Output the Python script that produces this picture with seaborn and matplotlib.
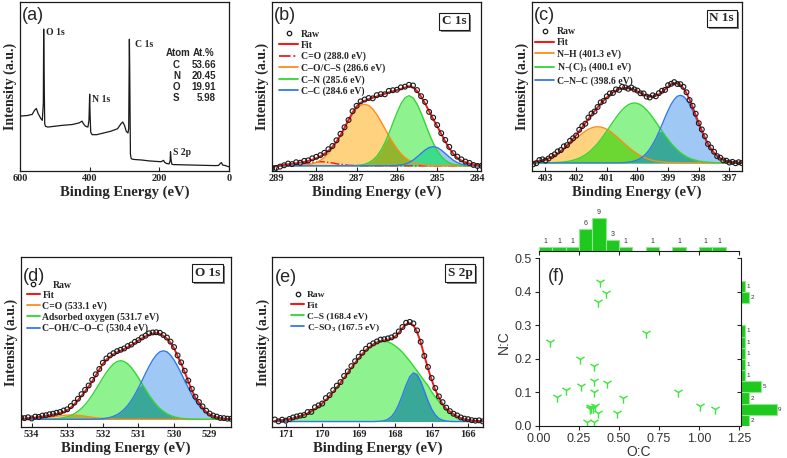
import numpy as np
import matplotlib
matplotlib.use('Agg')
import matplotlib.pyplot as plt
import matplotlib.patheffects as pe
from matplotlib.lines import Line2D
import seaborn as sns

sns.set_theme(style='white')
plt.rcParams['font.family'] = ['Liberation Serif', 'DejaVu Serif']
plt.rcParams['mathtext.default'] = 'regular'

SERIF = 'Liberation Serif'
SANS = 'Liberation Sans'

# ---------------- (a) survey spectrum ----------------
survey_energy = [600, 580, 565, 558, 553, 548, 540, 536, 533, 532, 531, 529, 527, 520, 500, 480, 450, 430,
                 422, 418, 412, 405, 402, 400, 399, 397, 393, 380, 360, 340, 320, 310, 305, 300, 295, 290,
                 288, 286, 285, 283, 281, 278, 270, 250, 230, 210, 195, 188, 185, 180, 172, 169, 168, 166,
                 164, 160, 140, 120, 100, 80, 60, 40, 30, 25, 22, 18, 10, 5, 0]
survey_counts = [32.5, 32.8, 33.5, 36, 37, 34, 31, 30, 40, 84, 60, 28, 26.5, 26, 26.5, 27, 27.5, 28.5,
                 29.5, 28, 26.5, 26, 30, 45.5, 35, 23, 21.5, 21.5, 22.5, 23.5, 25, 28, 29, 27, 23.5, 22.5,
                 25, 78, 60, 10, 7.5, 7, 6.8, 6.5, 6, 5.7, 5.5, 6.3, 5.2, 4.5, 4.2, 6, 11.4, 6,
                 4, 3.8, 3.7, 3.6, 3.5, 3.4, 3.3, 3.2, 3.3, 4.5, 5, 3.5, 3.2, 2.8, 2.5]
atoms = ['C', 'N', 'O', 'S']
at_pct = ['53.66', '20.45', '19.91', '5.98']

# ---------------- (b) C 1s  (289.1 -> 283.9 eV, 0.1 eV step) ----------------
b_energy = np.round(np.arange(289.1, 283.85, -0.1), 1)
b_base = 3.1
b_raw = [1.6, 1.8, 2.6, 3.4, 4.4, 4.1, 5.2, 4.9, 6.0, 6.3, 7.5, 8.4, 9.4, 10.8, 12.9, 14.8, 18.2, 22.0,
         25.9, 30.2, 35.4, 38.6, 41.2, 42.3, 43.2, 43.0, 44.9, 45.5, 45.4, 47.4, 47.8, 48.1, 49.5, 49.9,
         51.0, 50.6, 47.9, 44.3, 40.9, 35.0, 31.6, 27.2, 22.4, 18.4, 14.3, 10.6, 8.5, 6.9, 5.6, 4.8, 3.6,
         3.0, 3.1]
b_fit = [2.5, 2.8, 3.2, 3.6, 4.0, 4.3, 4.6, 5.0, 5.4, 6.0, 6.7, 7.6, 8.7, 10.2, 12.0, 14.3, 17.3, 21.2,
         25.6, 30.3, 34.6, 38.2, 40.4, 41.6, 42.5, 43.3, 44.1, 44.9, 45.7, 46.5, 47.2, 47.9, 48.6, 49.4,
         50.2, 49.6, 47.3, 44.0, 40.0, 35.3, 30.8, 26.5, 22.0, 17.5, 13.4, 10.2, 7.8, 6.2, 5.2, 4.4, 3.9,
         3.5, 3.3]
b_co = [0, 0, 0, .1, .2, .3, .6, .9, 1.2, 1.7, 2.0, 2.3, 2.4, 2.3, 2.0, 1.7, 1.2, .9, .6, .3, .2, .1,
        0, 0, 0, 0, 0, 0, 0, 0, 0, 0, 0, 0, 0, 0, 0, 0, 0, 0, 0, 0, 0, 0, 0, 0, 0, 0, 0, 0, 0, 0, 0]
b_cos = [0, 0, 0, 0, 0, .1, .1, .2, .4, .7, 1.2, 2.0, 3.2, 4.9, 7.2, 10.1, 13.7, 17.7, 22.1, 26.4, 30.4,
         33.6, 35.7, 36.4, 35.7, 33.6, 30.4, 26.4, 22.1, 17.7, 13.7, 10.1, 7.2, 4.9, 3.2, 2.0, 1.2, .7,
         .4, .2, .1, .1, 0, 0, 0, 0, 0, 0, 0, 0, 0, 0, 0]
b_cn = [0, 0, 0, 0, 0, 0, 0, 0, 0, 0, 0, 0, 0, 0, 0, 0, 0, 0, 0, 0, .1, .2, .5, .9, 1.8, 3.3, 5.6, 9.0,
        13.5, 19.0, 25.2, 31.3, 36.6, 40.2, 41.5, 40.2, 36.6, 31.3, 25.2, 19.0, 13.5, 9.0, 5.6, 3.3, 1.8,
        .9, .5, .2, .1, 0, 0, 0, 0]
b_cc = [0, 0, 0, 0, 0, 0, 0, 0, 0, 0, 0, 0, 0, 0, 0, 0, 0, 0, 0, 0, 0, 0, 0, 0, 0, 0, 0, 0, 0, 0, .1, .2,
        .5, 1.0, 1.9, 3.3, 5.2, 7.3, 9.3, 10.8, 11.3, 10.8, 9.3, 7.3, 5.2, 3.3, 1.9, 1.0, .5, .2, .1, 0, 0]

# ---------------- (c) N 1s  (403.4 -> 396.6 eV) ----------------
c_energy = np.round(np.arange(403.4, 396.55, -0.1), 1)
c_base = 4.8
c_raw = [4.0, 4.6, 6.5, 6.9, 6.2, 7.4, 8.9, 9.9, 11.6, 12.4, 14.6, 15.3, 17.9, 19.4, 21.0, 24.4, 26.6,
         28.0, 31.6, 34.0, 35.2, 37.9, 40.6, 41.5, 44.2, 45.9, 46.2, 48.3, 48.0, 49.8, 49.5, 48.7, 49.4,
         48.3, 47.6, 46.0, 45.9, 44.0, 43.5, 44.8, 44.2, 46.1, 47.5, 48.0, 50.8, 51.6, 52.6, 51.5, 51.4,
         49.8, 46.6, 42.0, 38.6, 33.9, 28.3, 24.6, 20.6, 16.0, 13.9, 11.4, 8.8, 7.9, 6.3, 6.1, 5.0, 5.4,
         4.6, 5.2, 4.7]
c_fit = [5.4, 5.6, 5.9, 6.3, 6.8, 7.5, 8.3, 9.3, 10.4, 11.7, 13.3, 15.0, 16.9, 19.0, 21.2, 23.5, 25.9,
         28.4, 30.8, 33.2, 35.5, 37.7, 39.8, 41.8, 43.5, 45.1, 46.5, 47.6, 48.4, 48.9, 49.1, 49.0, 48.6,
         48.0, 47.1, 46.2, 45.3, 44.5, 44.1, 44.1, 44.5, 45.4, 46.8, 48.3, 49.9, 51.2, 51.9, 51.9, 51.0,
         49.0, 46.1, 42.3, 37.9, 33.2, 28.5, 23.9, 19.8, 16.2, 13.2, 10.8, 8.9, 7.6, 6.6, 5.9, 5.5, 5.2,
         5.0, 4.9, 4.9]
c_nh = [.6, .8, 1.1, 1.5, 2.0, 2.6, 3.4, 4.3, 5.3, 6.6, 7.9, 9.4, 11.0, 12.6, 14.3, 15.9, 17.4, 18.8,
        19.9, 20.7, 21.2, 21.4, 21.2, 20.7, 19.9, 18.8, 17.4, 15.9, 14.3, 12.6, 11.0, 9.4, 7.9, 6.6, 5.3,
        4.3, 3.4, 2.6, 2.0, 1.5, 1.1, .8, .6, .4, .3, .2, .1, .1, .1,
        0, 0, 0, 0, 0, 0, 0, 0, 0, 0, 0, 0, 0, 0, 0, 0, 0, 0, 0, 0]
c_nc3 = [0, 0, 0, 0, 0, .1, .1, .2, .3, .4, .6, .8, 1.1, 1.6, 2.1, 2.8, 3.7, 4.8, 6.1, 7.7, 9.5, 11.5,
         13.8, 16.3, 18.9, 21.5, 24.2, 26.8, 29.2, 31.3, 33.1, 34.4, 35.2, 35.5, 35.2, 34.4, 33.1, 31.3,
         29.2, 26.8, 24.2, 21.5, 18.9, 16.3, 13.8, 11.5, 9.5, 7.7, 6.1, 4.8, 3.7, 2.8, 2.1, 1.6, 1.1, .8,
         .6, .4, .3, .2, .1, .1, 0, 0, 0, 0, 0, 0, 0]
c_cnc = [0, 0, 0, 0, 0, 0, 0, 0, 0, 0, 0, 0, 0, 0, 0, 0, 0, 0, 0, 0, 0, 0, 0, 0, 0, 0, 0, 0, .1, .1, .2,
         .4, .7, 1.1, 1.8, 2.7, 4.0, 5.8, 8.1, 11.0, 14.4, 18.3, 22.5, 26.9, 31.0, 34.7, 37.5, 39.4, 40.0,
         39.4, 37.5, 34.7, 31.0, 26.9, 22.5, 18.3, 14.4, 11.0, 8.1, 5.8, 4.0, 2.7, 1.8, 1.1, .7, .4, .2,
         .1, .1]

# ---------------- (d) O 1s  (534.3 -> 528.4 eV) ----------------
d_energy = np.round(np.arange(534.3, 528.35, -0.1), 1)
d_base = 4.7
d_raw = [5.6, 5.4, 5.9, 5.2, 6.3, 6.1, 6.9, 7.1, 7.7, 8.0, 8.6, 9.0, 9.9, 10.6, 12.5, 14.5, 16.8, 19.5,
         22.0, 24.6, 27.9, 31.2, 34.3, 38.0, 40.5, 42.3, 43.6, 44.8, 45.6, 46.4, 47.8, 48.7, 50.3, 51.3,
         52.9, 53.9, 55.3, 55.8, 55.9, 55.6, 54.3, 52.8, 50.4, 47.2, 42.3, 38.2, 33.3, 27.5, 22.6, 18.0,
         14.9, 12.3, 9.8, 8.1, 6.9, 6.3, 5.5, 5.4, 5.1, 5.0]
d_fit = [5.0, 5.1, 5.3, 5.5, 5.7, 6.0, 6.3, 6.6, 7.0, 7.4, 7.8, 8.3, 9.0, 10.0, 11.6, 13.6, 16.0, 18.5,
         21.2, 24.0, 27.0, 30.5, 34.0, 37.3, 39.8, 41.6, 43.0, 44.1, 45.0, 46.0, 47.1, 48.3, 49.6, 51.0,
         52.3, 53.5, 54.5, 55.1, 55.3, 54.9, 53.8, 52.2, 49.8, 46.5, 41.9, 37.5, 32.5, 27.0, 21.8, 17.4,
         14.5, 11.5, 9.2, 7.6, 6.5, 5.8, 5.3, 5.0, 4.9, 4.8]
d_co = [0, .1, .1, .2, .3, .5, .7, .9, 1.2, 1.5, 1.8, 2.1, 2.3, 2.5, 2.5, 2.5, 2.3, 2.1, 1.8, 1.5, 1.2,
        .9, .7, .5, .3, .2, .1, .1, 0, 0, 0, 0, 0, 0, 0, 0, 0, 0, 0, 0, 0, 0, 0, 0, 0, 0, 0, 0, 0, 0, 0,
        0, 0, 0, 0, 0, 0, 0, 0, 0]
d_ads = [0, 0, 0, 0, 0, 0, 0, .1, .1, .2, .4, .6, 1.0, 1.5, 2.3, 3.3, 4.7, 6.4, 8.6, 11.2, 14.2, 17.5,
         20.9, 24.4, 27.6, 30.4, 32.6, 34.0, 34.5, 34.0, 32.6, 30.4, 27.6, 24.4, 20.9, 17.5, 14.2, 11.2,
         8.6, 6.4, 4.7, 3.3, 2.3, 1.5, 1.0, .6, .4, .2, .1, .1, 0, 0, 0, 0, 0, 0, 0, 0, 0, 0]
d_coh = [0, 0, 0, 0, 0, 0, 0, 0, 0, 0, 0, 0, 0, 0, 0, 0, 0, 0, 0, 0, .1, .1, .2, .4, .7, 1.1, 1.8, 2.7,
         4.1, 5.9, 8.2, 11.1, 14.5, 18.5, 22.7, 27.1, 31.2, 34.9, 37.8, 39.7, 40.3, 39.7, 37.8, 34.9, 31.2,
         27.1, 22.7, 18.5, 14.5, 11.1, 8.2, 5.9, 4.1, 2.7, 1.8, 1.1, .7, .4, .2, .1]

# ---------------- (e) S 2p  (171.3 -> 165.6 eV) ----------------
e_energy = np.round(np.arange(171.3, 165.55, -0.1), 1)
e_base = 3.4
e_raw = [4.6, 3.5, 4.5, 3.9, 4.9, 5.8, 6.4, 6.9, 7.2, 9.0, 9.1, 11.8, 12.9, 14.0, 17.2, 18.9, 21.9, 24.5,
         26.6, 30.2, 32.9, 36.0, 38.9, 41.5, 43.9, 46.2, 48.1, 49.4, 50.5, 51.6, 51.8, 52.3, 52.9, 54.0,
         56.4, 59.0, 61.5, 62.0, 61.1, 57.0, 50.3, 42.0, 35.5, 29.0, 23.1, 18.2, 14.8, 11.6, 9.5, 8.0,
         7.0, 5.8, 5.1, 4.8, 4.2, 3.9, 4.1, 3.5]
e_fit = [3.8, 4.0, 4.2, 4.5, 4.8, 5.2, 5.8, 6.5, 7.3, 8.2, 9.4, 10.8, 12.3, 14.1, 16.1, 18.4, 20.8, 23.4,
         26.2, 29.1, 32.0, 35.0, 37.8, 40.6, 43.1, 45.4, 47.3, 48.8, 49.9, 50.7, 51.1, 51.5, 52.2, 53.4,
         55.6, 58.4, 60.6, 61.2, 60.0, 56.2, 49.9, 42.2, 34.6, 28.0, 22.1, 17.4, 13.7, 10.9, 9.2, 7.7,
         6.4, 5.4, 4.7, 4.3, 4.0, 3.8, 3.7, 3.6]
e_cs = [.4, .6, .8, 1.1, 1.4, 1.8, 2.4, 3.1, 3.9, 4.8, 6.0, 7.4, 8.9, 10.7, 12.7, 15.0, 17.4, 20.0, 22.8,
        25.7, 28.6, 31.6, 34.4, 37.2, 39.7, 42.0, 43.9, 45.4, 46.5, 47.1, 47.2, 46.8, 45.9, 44.5, 42.8,
        40.7, 38.2, 35.6, 32.7, 29.8, 26.9, 23.9, 21.1, 17.5, 14.5, 11.8, 9.5, 7.4, 5.6, 4.0, 2.8, 1.8,
        1.1, .7, .4, .2, .1, .1]
e_cso3 = [0, 0, 0, 0, 0, 0, 0, 0, 0, 0, 0, 0, 0, 0, 0, 0, 0, 0, 0, 0, 0, 0, 0, 0, 0, 0, 0, 0, .1, .2, .5,
          1.3, 2.9, 5.8, 10.1, 15.6, 21.5, 26.3, 28.6, 27.6, 23.7, 18.0, 12.2, 7.3, 3.9, 1.8, .8, .3, .1,
          0, 0, 0, 0, 0, 0, 0, 0, 0]

# ---------------- (f) atomic ratios ----------------
oc_ratio = [0.382, 0.420, 0.370, 0.670, 0.066, 0.255, 0.341, 0.345, 0.425, 0.263, 0.169, 0.345, 0.115,
            0.522, 0.871, 1.005, 1.097, 0.321, 0.337, 0.319, 0.370, 0.485, 0.300, 0.341, 0.328, 0.350]
nc_ratio = [0.430, 0.396, 0.370, 0.276, 0.250, 0.201, 0.178, 0.134, 0.128, 0.120, 0.106, 0.102, 0.086,
            0.083, 0.101, 0.060, 0.052, 0.058, 0.055, 0.050, 0.038, 0.038, 0.013, 0.013, 0.055, 0.060]
oc_bins = np.linspace(0, 14 / 12, 15)
nc_bins = np.linspace(0, 13 / 30, 14)

LINE_O, FILL_O = '#ff8c1a', '#ffd27f'
LINE_G, FILL_G = '#33d633', '#8ef28e'
LINE_B, FILL_B = '#3377ee', '#a0c8f5'
RED = '#ee1c1c'
HIST_FC, HIST_EC = '#1ec81e', '#8fe88f'


def style_xps(ax, xlim, ticks, tag, title=None, tag_y=0.92):
    ax.set_xlim(*xlim)
    ax.set_ylim(0, 100)
    ax.set_yticks([])
    ax.set_xticks(ticks)
    ax.tick_params(axis='x', direction='in', length=3, width=0.8, pad=2, bottom=True)
    plt.setp(ax.get_xticklabels(), fontfamily=SERIF, fontweight='bold', fontsize=7.5)
    for sp in ax.spines.values():
        sp.set_visible(True)
        sp.set_color('k')
        sp.set_linewidth(0.9)
    ax.set_xlabel('Binding Energy (eV)', fontfamily=SERIF, fontweight='bold', fontsize=10.5, labelpad=2)
    ax.set_ylabel('Intensity (a.u.)', fontfamily=SERIF, fontweight='bold', fontsize=10, labelpad=2)
    ax.text(0.01, tag_y, tag, transform=ax.transAxes, fontfamily=SANS, fontsize=13, va='center', ha='left')
    if title:
        t = ax.text(title[0], title[1], title[2], transform=ax.transAxes, fontfamily=SERIF,
                    fontweight='bold', fontsize=9.5, ha='center', va='center',
                    bbox=dict(boxstyle='square,pad=0.2', fc='white', ec='k', lw=0.8))
        t.get_bbox_patch().set_path_effects(
            [pe.withSimplePatchShadow(offset=(1.5, -1.5), shadow_rgbFace='0.45', alpha=0.9)])


def draw_xps(ax, x, base, raw, fit, comps, overlaps, anchor, handlelen, fsize, lspace, raw_label='Raw'):
    # comps: (label, values above background, line colour, fill colour, linestyle)
    for name, vals, lc, fc, ls in comps:
        ax.fill_between(x, base, base + np.asarray(vals), color=fc, lw=0)
    for i, j, col in overlaps:
        ax.fill_between(x, base, base + np.minimum(comps[i][1], comps[j][1]), color=col, lw=0)
    handles = []
    for name, vals, lc, fc, ls in comps:
        sns.lineplot(x=x, y=base + np.asarray(vals), ax=ax, color=lc, lw=1.0, ls=ls, sort=False, estimator=None)
        handles.append(Line2D([], [], color=lc, lw=1.3, ls=ls))
    sns.lineplot(x=x, y=fit, ax=ax, color=RED, lw=1.4, sort=False, estimator=None)
    sns.scatterplot(x=x, y=raw, ax=ax, marker='o', s=12, fc='none', ec='k', linewidth=0.8, zorder=5)
    h_raw = Line2D([], [], marker='o', ls='none', mfc='none', mec='k', ms=3.2, mew=0.9)
    h_fit = Line2D([], [], color=RED, lw=1.5)
    ax.legend([h_raw, h_fit] + handles, [raw_label, 'Fit'] + [c[0] for c in comps], loc='upper left',
              bbox_to_anchor=anchor, frameon=False,
              prop=dict(family=SERIF, weight='bold', size=fsize), handlelength=handlelen, handletextpad=0.3,
              labelspacing=lspace, borderpad=0, borderaxespad=0)


fig = plt.figure(figsize=(7.87, 4.58), dpi=100)

# (a)
ax_a = fig.add_axes([0.0254, 0.6266, 0.2656, 0.369])
sns.lineplot(x=survey_energy, y=survey_counts, ax=ax_a, color='k', lw=0.9, sort=False, estimator=None)
style_xps(ax_a, (600, 0), [600, 400, 200, 0], '(a)')
for txt, xx, yy in [('O 1s', 526, 81.7), ('N 1s', 393, 42.6), ('C 1s', 269, 75), ('S 2p', 160, 10.7)]:
    ax_a.text(xx, yy, txt, fontfamily=SERIF, fontweight='bold', fontsize=7, va='center', ha='left')
ax_a.text(146, 69.8, 'Atom', fontfamily=SANS, fontweight='bold', fontsize=7, ha='center', va='center')
ax_a.text(72, 69.8, 'At.%', fontfamily=SANS, fontweight='bold', fontsize=7, ha='center', va='center')
for k, (a, p) in enumerate(zip(atoms, at_pct)):
    yy = 63 - 6.6 * k
    ax_a.text(151, yy, a, fontfamily=SANS, fontweight='bold', fontsize=7, ha='center', va='center')
    ax_a.text(37, yy, p, fontfamily=SANS, fontweight='bold', fontsize=7, ha='right', va='center')

# (b)
ax_b = fig.add_axes([0.3456, 0.6266, 0.2652, 0.369])
comps_b = [('C=O (288.0 eV)', b_co, RED, '#ffb0b0', '-.'),
           ('C\u2013O/C\u2013S (286.6 eV)', b_cos, LINE_O, FILL_O, '-'),
           ('C\u2013N (285.6 eV)', b_cn, LINE_G, FILL_G, '-'),
           ('C\u2013C (284.6 eV)', b_cc, LINE_B, FILL_B, '-')]
draw_xps(ax_b, b_energy, b_base, b_raw, b_fit, comps_b, [(1, 2, '#93b42e'), (2, 3, '#3ddc8c')],
         (0.035, 0.835), 1.9, 7, 0.2)
style_xps(ax_b, (289.1, 283.92), [289, 288, 287, 286, 285, 284], '(b)', (0.872, 0.885, 'C 1s'))

# (c)
ax_c = fig.add_axes([0.6756, 0.6266, 0.2668, 0.369])
comps_c = [('N\u2013H (401.3 eV)', c_nh, LINE_O, FILL_O, '-'),
           ('N\u2013(C)$_3$ (400.1 eV)', c_nc3, LINE_G, FILL_G, '-'),
           ('C\u2013N\u2013C (398.6 eV)', c_cnc, LINE_B, FILL_B, '-')]
draw_xps(ax_c, c_energy, c_base, c_raw, c_fit, comps_c, [(0, 1, '#6cd633'), (1, 2, '#3aa899')],
         (0.015, 0.85), 2.0, 7, 0.2)
style_xps(ax_c, (403.45, 396.6), [403, 402, 401, 400, 399, 398, 397], '(c)', (0.905, 0.904, 'N 1s'))

# (d)
ax_d = fig.add_axes([0.0267, 0.0670, 0.2668, 0.3712])
comps_d = [('C=O (533.1 eV)', d_co, LINE_O, FILL_O, '-'),
           ('Adsorbed oxygen (531.7 eV)', d_ads, LINE_G, FILL_G, '-'),
           ('C\u2013OH/C\u2013O\u2013C (530.4 eV)', d_coh, LINE_B, FILL_B, '-')]
draw_xps(ax_d, d_energy, d_base, d_raw, d_fit, comps_d, [(0, 1, '#a0b840'), (1, 2, '#3aa899')],
         (0.028, 0.865), 1.3, 7, 0.16, raw_label='')
style_xps(ax_d, (534.3, 528.4), [534, 533, 532, 531, 530, 529], '(d)', (0.889, 0.908, 'O 1s'), tag_y=0.885)
ax_d.text(0.152, 0.835, 'Raw', transform=ax_d.transAxes, fontfamily=SERIF, fontweight='bold', fontsize=7,
          va='center')

# (e)
ax_e = fig.add_axes([0.346, 0.0670, 0.2673, 0.3712])
comps_e = [('C\u2013S (168.4 eV)', e_cs, LINE_G, FILL_G, '-'),
           ('C\u2013SO$_3$ (167.5 eV)', e_cso3, LINE_B, FILL_B, '-')]
draw_xps(ax_e, e_energy, e_base, e_raw, e_fit, comps_e, [(0, 1, '#3aa899')], (0.09, 0.805), 1.4, 6.8, 0.2)
style_xps(ax_e, (171.37, 165.6), [171, 170, 169, 168, 167, 166], '(e)', (0.892, 0.908, 'S 2p'), tag_y=0.88)

# (f) scatter with marginal histograms
ax_f = fig.add_axes([0.6849, 0.0699, 0.2541, 0.3662])
sns.scatterplot(x=oc_ratio, y=nc_ratio, ax=ax_f, marker='1', s=55, color='#3ee63e', linewidth=1.0)
ax_f.set_xlim(0, 1.25)
ax_f.set_ylim(0, 0.5)
ax_f.set_xticks([0, 0.25, 0.5, 0.75, 1.0, 1.25])
ax_f.set_xticklabels(['0.00', '0.25', '0.50', '0.75', '1.00', '1.25'])
ax_f.set_yticks([0, 0.1, 0.2, 0.3, 0.4, 0.5])
ax_f.set_yticklabels(['0.0', '0.1', '0.2', '0.3', '0.4', '0.5'])
ax_f.tick_params(direction='out', length=3, width=0.8, pad=2, bottom=True, left=True)
plt.setp(ax_f.get_xticklabels() + ax_f.get_yticklabels(), fontfamily=SANS, fontsize=9, color='#333333')
for side in ['top', 'right']:
    ax_f.spines[side].set_visible(False)
for side in ['left', 'bottom']:
    ax_f.spines[side].set_color('k')
    ax_f.spines[side].set_linewidth(0.8)
ax_f.set_xlabel('O:C', fontfamily=SANS, fontsize=10, labelpad=0, color='#333333')
ax_f.set_ylabel('N:C', fontfamily=SANS, fontsize=10, labelpad=3, color='#333333')
ax_f.text(0.045, 0.89, '(f)', transform=ax_f.transAxes, fontfamily=SANS, fontsize=13, va='center')

ax_t = fig.add_axes([0.6849, 0.452, 0.2541, 0.083])
sns.histplot(x=oc_ratio, bins=oc_bins, ax=ax_t, color=HIST_FC, edgecolor=HIST_EC, alpha=1, linewidth=0.8)
ax_t.set_xlim(0, 1.25)
ax_t.set_ylim(0, 10.36)
ax_t.set_xticks([0, 0.25, 0.5, 0.75, 1.0, 1.25])
ax_t.set_yticks([])
ax_t.set_ylabel('')
ax_t.tick_params(axis='x', direction='out', length=3, width=0.8, labelbottom=False, bottom=True)
for side in ['top', 'right', 'left']:
    ax_t.spines[side].set_visible(False)
ax_t.spines['bottom'].set_color('k')
ax_t.spines['bottom'].set_linewidth(0.8)
cnt = ax_t.containers[0].datavalues
ax_t.bar_label(ax_t.containers[0], labels=[str(int(v)) if v > 0 else '' for v in cnt], fontsize=5,
               padding=1.5, fontfamily=SANS, color='#333333')

ax_r = fig.add_axes([0.9416, 0.0699, 0.0584, 0.3662])
sns.histplot(y=nc_ratio, bins=nc_bins, ax=ax_r, color=HIST_FC, edgecolor=HIST_EC, alpha=1, linewidth=0.8)
ax_r.set_ylim(0, 0.5)
ax_r.set_xlim(0, 11.6)
ax_r.set_yticks([0, 0.1, 0.2, 0.3, 0.4, 0.5])
ax_r.set_xticks([])
ax_r.set_xlabel('')
ax_r.tick_params(axis='y', direction='out', length=3, width=0.8, labelleft=False, left=True)
for side in ['top', 'right', 'bottom']:
    ax_r.spines[side].set_visible(False)
ax_r.spines['left'].set_color('k')
ax_r.spines['left'].set_linewidth(0.8)
cnt = ax_r.containers[0].datavalues
ax_r.bar_label(ax_r.containers[0], labels=[str(int(v)) if v > 0 else '' for v in cnt], fontsize=4.5,
               padding=1, fontfamily=SANS, color='#333333')

fig.savefig('out.png', dpi=100)
